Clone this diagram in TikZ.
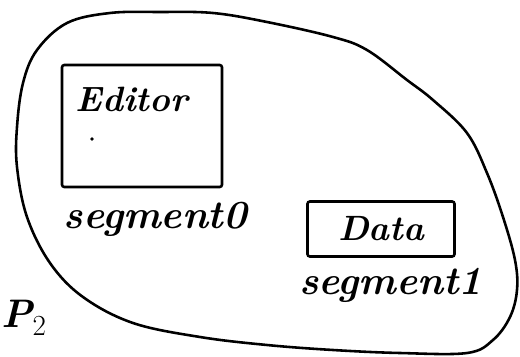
\documentclass[tikz,border=0pt]{standalone}
\usetikzlibrary{positioning, calc}
\tikzset{
  hand/.style={
    font=\fontsize{34}{40}\selectfont\bfseries\itshape, inner sep=0pt
  },
  boxtxt/.style={
    hand, font=\fontsize{30}{36}\selectfont\bfseries\itshape
  },
  segbox/.style={
    draw, line width=2.2pt, rectangle, rounded corners=2pt, inner sep=0pt
  },
  outline/.style={
    draw, line width=2.2pt
  }
}
\begin{document}
\begin{tikzpicture}[x=0.03cm, y=-0.03cm]
    \useasboundingbox (0,0) rectangle (520,357);

    % ============================================================
    % PROCESS OUTLINE
    % ============================================================
    \draw [outline] plot [smooth cycle, tension=0.6] coordinates {
      (160,12) (213,13) (267,22) (333,37) (367,50) (407,80) (433,100)
      (467,133) (487,173) (503,217) (515,260) (517,290) (510,317)
      (493,340) (467,353) (400,353) (333,350) (267,345) (200,337)
      (133,323) (83,297) (50,263) (27,217) (17,167) (17,127) (23,83)
      (37,50) (67,23) (110,13)};

    % ============================================================
    % SEGMENTS
    % ============================================================
    \node (editor) [segbox, minimum width=4.8cm, minimum height=3.66cm] at (142,126) {};
    \node (editortxt) [boxtxt, anchor=north west] at ($(editor.north west)+(15,23)$) {Editor};
    \fill (92,139) circle (1.8);
    \node (seg0) [hand, below=0.4cm of editor, xshift=0.4cm] {segment0};

    \node (data) [segbox, minimum width=4.41cm, minimum height=1.65cm] at (381,229) {};
    \node (datatxt) [boxtxt] at (data.center) {Data};
    \node (seg1) [hand, below=0.3cm of data, xshift=0.3cm] {segment1};

    % process name at the left edge
    \node (proc) [hand, anchor=south west] at (1,336) {P$_2$};

\end{tikzpicture}
\end{document}
